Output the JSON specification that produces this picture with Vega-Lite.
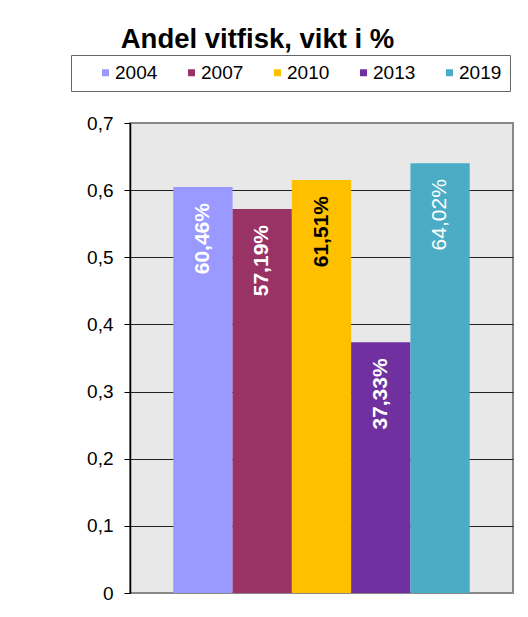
{
  "$schema": "https://vega.github.io/schema/vega-lite/v6.json",
  "width": 383,
  "height": 470,
  "autosize": {"type": "none"},
  "padding": {"left": 130, "top": 123, "right": 15, "bottom": 24},
  "background": "white",
  "title": {
    "text": "Andel vitfisk, vikt i %",
    "font": "Liberation Sans",
    "fontSize": 27.5,
    "fontWeight": "bold",
    "color": "black",
    "anchor": "middle",
    "dx": -64,
    "offset": 1
  },
  "data": {
    "values": [
      {"year": "2004", "share": 0.6046},
      {"year": "2007", "share": 0.5719},
      {"year": "2010", "share": 0.6151},
      {"year": "2013", "share": 0.3733},
      {"year": "2019", "share": 0.6402}
    ]
  },
  "transform": [
    {"calculate": "replace(format(datum.share, '.2%'), '.', ',')", "as": "label"}
  ],
  "encoding": {
    "x": {
      "field": "year",
      "type": "nominal",
      "axis": null,
      "scale": {"paddingInner": 0, "paddingOuter": 0.73}
    },
    "y": {
      "field": "share",
      "type": "quantitative",
      "scale": {"domain": [0, 0.7], "nice": false},
      "axis": {
        "title": null,
        "values": [0, 0.1, 0.2, 0.3, 0.4, 0.5, 0.6, 0.7],
        "labelExpr": "datum.value == 0 ? '0' : replace(format(datum.value, '.1f'), '.', ',')",
        "labelFont": "Liberation Sans",
        "labelFontSize": 19,
        "labelColor": "black",
        "labelPadding": 11,
        "tickSize": 6,
        "tickColor": "black",
        "domainColor": "black",
        "domainWidth": 1.5,
        "grid": true,
        "gridColor": {"condition": {"test": "datum.value == 0 || datum.value >= 0.7", "value": "#888888"}, "value": "#222222"},
        "gridWidth": 1.2
      }
    }
  },
  "layer": [
    {
      "mark": {"type": "bar"},
      "encoding": {
        "color": {
          "field": "year",
          "type": "nominal",
          "scale": {
            "domain": ["2004", "2007", "2010", "2013", "2019"],
            "range": ["#9999FF", "#993366", "#FFC000", "#7030A0", "#4BACC6"]
          },
          "legend": {
            "orient": "none",
            "legendX": -59,
            "legendY": -68,
            "direction": "horizontal",
            "title": " ",
            "titleOrient": "left",
            "titleFontSize": 19,
            "titlePadding": 17,
            "symbolType": "square",
            "symbolSize": 49,
            "symbolStrokeWidth": 0,
            "labelFont": "Liberation Sans",
            "labelFontSize": 19,
            "labelColor": "black",
            "labelOffset": 0,
            "columnPadding": 24,
            "padding": 8,
            "strokeColor": "#666666",
            "fillColor": "white"
          }
        }
      }
    },
    {
      "transform": [{"filter": "datum.year != '2019'"}],
      "mark": {
        "type": "text",
        "angle": 270,
        "align": "right",
        "baseline": "middle",
        "dx": -16,
        "font": "Liberation Sans",
        "fontSize": 21,
        "fontWeight": "bold"
      },
      "encoding": {
        "text": {"field": "label"},
        "color": {"condition": {"test": "datum.year == '2010'", "value": "black"}, "value": "white"}
      }
    },
    {
      "transform": [{"filter": "datum.year == '2019'"}],
      "mark": {
        "type": "text",
        "angle": 270,
        "align": "right",
        "baseline": "middle",
        "dx": -16,
        "font": "Liberation Sans",
        "fontSize": 21,
        "fontWeight": "normal",
        "color": "white"
      },
      "encoding": {
        "text": {"field": "label"}
      }
    }
  ],
  "config": {
    "view": {"fill": "#E8E8E8", "stroke": "#888888", "strokeWidth": 2}
  }
}
